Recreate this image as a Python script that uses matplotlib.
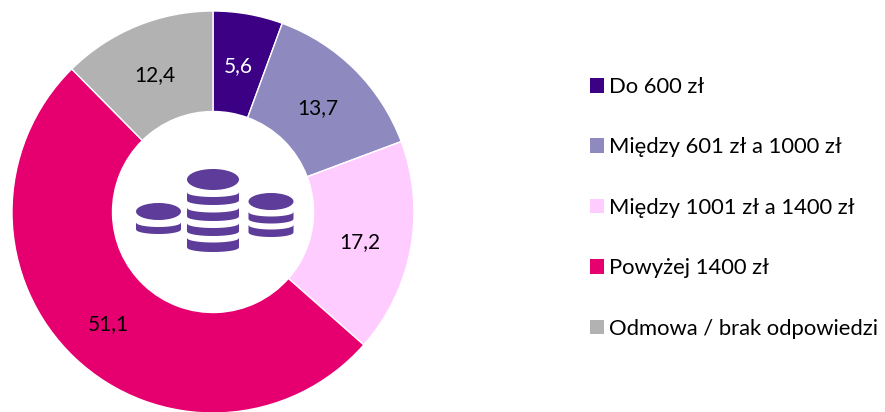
import matplotlib
matplotlib.use("Agg")
import matplotlib.pyplot as plt
from matplotlib.patches import Ellipse, Polygon
import numpy as np

plt.rcParams['font.family'] = ['Lato', 'DejaVu Sans']

categories = ["Do 600 zł", "Między 601 zł a 1000 zł", "Między 1001 zł a 1400 zł", "Powyżej 1400 zł", "Odmowa / brak odpowiedzi"]
values = [5.6, 13.7, 17.2, 51.1, 12.4]
colors = ["#3B0083", "#8E8ABF", "#FFCCFF", "#E6006F", "#B2B2B2"]
label_colors = ["white", "black", "black", "black", "black"]

W, H = 885, 412
ICON = "#5E3C99"


def coin_stack(ax, cx, rx, disc_top, disc_h, bands):
    # top disc and the crescent bands below it
    ax.add_patch(Ellipse((cx, disc_top + disc_h / 2), 2 * rx, disc_h, color=ICON, lw=0))
    t = np.linspace(-1, 1, 60)
    for top, bottom in bands:
        sag = 4.5
        curve = sag * np.sqrt(1 - t ** 2)
        upper = top + curve
        lower = bottom - sag + curve
        pts = list(zip(cx + rx * t, upper)) + list(zip(cx + rx * t[::-1], lower[::-1]))
        ax.add_patch(Polygon(pts, closed=True, color=ICON, lw=0))


fig = plt.figure(figsize=(W / 100, H / 100), dpi=100)
ax = fig.add_axes([12 / W, -1 / H, 402 / W, 402 / H])
wedges, texts, autotexts = ax.pie(
    values, colors=colors, startangle=90, counterclock=False, radius=1,
    wedgeprops=dict(width=0.5, edgecolor="white", linewidth=1),
    autopct=lambda p: f"{p:.1f}".replace(".", ","), pctdistance=0.75,
    textprops=dict(fontsize=15))
for t, c in zip(autotexts, label_colors):
    t.set_color(c)
    x, y = t.get_position()
    t.set_position((x - 0.005, y - 0.013))
ax.set_xlim(-1, 1)
ax.set_ylim(-1, 1)

# coins icon in the middle, pixel coordinates
icon = fig.add_axes([0, 0, 1, 1])
icon.set_xlim(0, W)
icon.set_ylim(H, 0)
icon.axis("off")
icon.patch.set_alpha(0)
coin_stack(icon, 213, 26, 169, 21, [(192.5, 205), (208, 221), (223.5, 236), (238, 252)])
coin_stack(icon, 158.5, 22.5, 203, 17, [(222.5, 234)])
coin_stack(icon, 271, 22.5, 193, 17, [(212, 223.5), (225, 237)])

leg = fig.legend(wedges, categories, loc="upper left", bbox_to_anchor=(590 / W, 1 - 77 / H),
                 frameon=False, fontsize=15.8, handlelength=0.64, handleheight=0.64,
                 handletextpad=0.23, labelspacing=1.84, borderpad=0, borderaxespad=0)
for h in leg.legend_handles:
    h.set_edgecolor("none")

fig.savefig("out.png", dpi=100)
